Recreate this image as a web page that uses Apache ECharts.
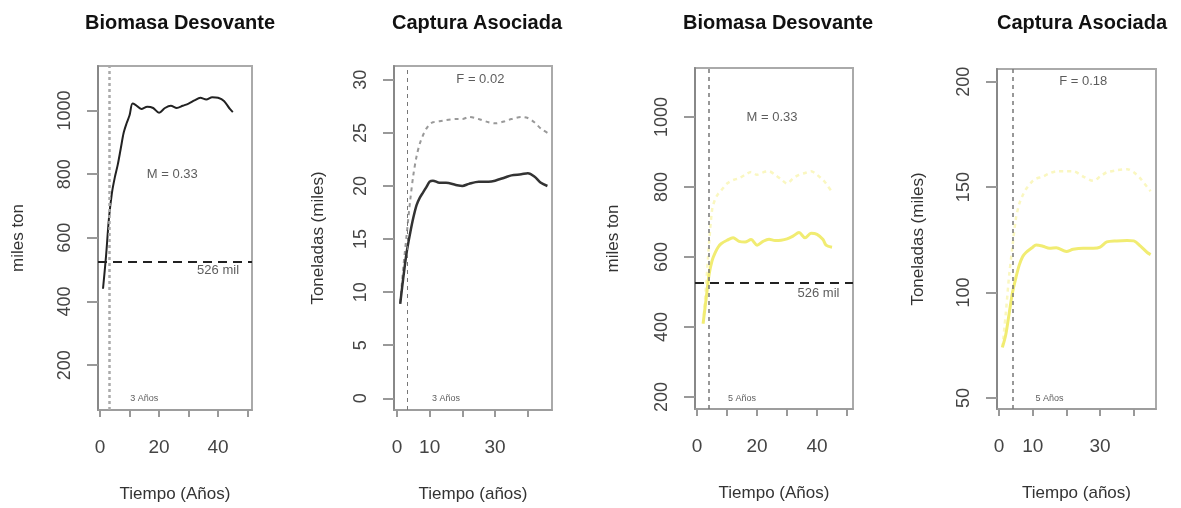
<!DOCTYPE html>
<html>
<head>
<meta charset="utf-8">
<script src="https://cdn.jsdelivr.net/npm/echarts@6/dist/echarts.min.js"></script>
<style>
  html, body { margin: 0; padding: 0; background: #fff; }
  #chart { width: 1181px; height: 508px; }
</style>
</head>
<body>
<div id="chart"></div>
<script>
// panel 1: biomasa desovante, M = 0.33
const years1 = [1, 2, 3, 4, 5, 6, 7, 8, 9, 10, 11, 12, 14, 16, 18, 20, 22, 24, 26, 28, 30, 32, 34, 36, 38, 40, 42, 44, 45]
const biomasa1 = [440, 540, 660, 740, 790, 830, 880, 930, 960, 985, 1022, 1018, 1005, 1012, 1008, 993, 1008, 1015, 1008, 1015, 1022, 1032, 1040, 1035, 1042, 1040, 1030, 1005, 995]

// panel 2: captura asociada, F = 0.02
const years2 = [1, 2, 3, 4, 5, 6, 7, 8, 9, 10, 11, 13, 15, 18, 20, 22, 25, 28, 30, 33, 35, 38, 40, 42, 44, 46]
const captura2 = [8.9, 11.5, 13.8, 15.5, 17, 18.2, 18.9, 19.4, 19.9, 20.4, 20.5, 20.3, 20.3, 20.1, 20.0, 20.2, 20.4, 20.4, 20.5, 20.8, 21.0, 21.1, 21.2, 20.9, 20.3, 20.0]
const captura2Alt = [9, 12.5, 15.5, 18.5, 21, 22.8, 24, 24.8, 25.4, 25.8, 26, 26.1, 26.2, 26.3, 26.3, 26.5, 26.3, 26, 25.9, 26.1, 26.3, 26.5, 26.4, 26, 25.4, 25]

// panel 3: biomasa desovante, M = 0.33 (amarillo)
const years3 = [2, 3, 4, 5, 6, 7, 8, 10, 12, 14, 16, 18, 20, 22, 24, 26, 28, 30, 32, 34, 36, 38, 40, 42, 43, 45]
const biomasa3 = [410, 480, 550, 590, 612, 628, 638, 648, 655, 645, 643, 650, 634, 645, 651, 647, 648, 652, 660, 670, 655, 668, 665, 650, 634, 628]
const biomasa3Alt = [410, 520, 640, 735, 765, 780, 790, 810, 820, 825, 835, 843, 835, 842, 845, 835, 822, 810, 825, 835, 840, 845, 835, 820, 810, 786]

// panel 4: captura asociada, F = 0.18 (amarillo)
const years4 = [1, 2, 3, 4, 5, 6, 7, 8, 10, 11, 13, 15, 17, 20, 22, 25, 28, 30, 32, 35, 38, 40, 42, 44, 45]
const captura4 = [74, 80, 90, 100, 107, 113, 117, 119, 121.5, 122.6, 122, 121, 121.2, 119.5, 120.5, 121, 121, 121.5, 124, 124.5, 124.7, 124.5, 122, 119, 118]
const captura4Alt = [74, 90, 108, 122, 135, 142, 146, 149, 153, 154, 155, 156.5, 157.5, 157.5, 157.5, 155, 153, 155, 157, 158, 158.5, 157, 154, 150, 148]

// ticks and labels
const xTicks1 = [0, 10, 20, 30, 40, 50]
const xLabels1 = [0, 20, 40]
const xTicks2 = [0, 10, 20, 30, 40]
const xLabels2 = [0, 10, 30]
const yTicksBiomasa = [200, 400, 600, 800, 1000]
const yTicks2 = [0, 5, 10, 15, 20, 25, 30]
const yTicks4 = [50, 100, 150, 200]

// reference lines and notes
const limite = 526
const anios = [3, 3, 4, 4]
const titles = ['Biomasa Desovante', 'Captura Asociada', 'Biomasa Desovante', 'Captura Asociada']
const yNames = ['miles ton', 'Toneladas (miles)', 'miles ton', 'Toneladas (miles)']
const xNames = ['Tiempo (Años)', 'Tiempo (años)', 'Tiempo (Años)', 'Tiempo (años)']
const notes = [
  [[24.5, 800, 'M = 0.33'], [40, 497, '526 mil'], [15, 95, '3 Años']],
  [[25.5, 30, 'F = 0.02'], [15, 0, '3 Años']],
  [[25, 1000, 'M = 0.33'], [40.5, 497, '526 mil'], [15, 197, '5 Años']],
  [[25, 200, 'F = 0.18'], [15, 50, '5 Años']],
]

const font = 'Liberation Sans, Arial, Helvetica, sans-serif'

const grids = [
  { left: 98, top: 66, width: 154, height: 346 },
  { left: 394, top: 66, width: 158, height: 346 },
  { left: 695, top: 68, width: 158, height: 341 },
  { left: 997, top: 69, width: 159, height: 340 },
]
const xRange = [[-0.7, 51.5], [-0.9, 47.4], [-0.7, 52], [-0.6, 46.6]]
const yRange = [[59, 1140], [-1.1, 31.3], [166, 1140], [44.8, 206]]
const xTicks = [xTicks1, xTicks2, xTicks1, xTicks2]
const xLabels = [xLabels1, xLabels2, xLabels1, xLabels2]
const yTicks = [yTicksBiomasa, yTicks2, yTicksBiomasa, yTicks4]
const titleCenters = [175, 472, 773, 1077]
const yNameGaps = [71, 67, 73, 70]

const pair = (xs, ys) => xs.map((x, i) => [x, ys[i]])

const myChart = echarts.init(document.getElementById('chart'))

const xAxis = grids.map((g, i) => ({
  type: 'value',
  gridIndex: i,
  min: xRange[i][0],
  max: xRange[i][1],
  name: xNames[i],
  nameLocation: 'middle',
  nameGap: 76,
  nameTextStyle: { color: '#333', fontSize: 17, fontFamily: font },
  axisLine: { show: true, onZero: false, lineStyle: { color: '#999', width: 1.5 } },
  axisTick: { show: true, customValues: xTicks[i], length: 7, lineStyle: { color: '#999', width: 2 } },
  axisLabel: { customValues: xLabels[i], color: '#444', fontSize: 19, fontFamily: font, margin: 28, formatter: (v) => String(v) },
  splitLine: { show: false },
}))

const yAxis = grids.map((g, i) => ({
  type: 'value',
  gridIndex: i,
  min: yRange[i][0],
  max: yRange[i][1],
  name: yNames[i],
  nameLocation: 'middle',
  nameGap: yNameGaps[i],
  nameTextStyle: { color: '#333', fontSize: 17, fontFamily: font },
  axisLine: { show: true, onZero: false, lineStyle: { color: '#888', width: 2 } },
  axisTick: { show: true, customValues: yTicks[i], length: 11, lineStyle: { color: '#999', width: 2 } },
  axisLabel: { customValues: yTicks[i], rotate: 90, color: '#444', fontSize: 18, fontFamily: font, margin: 24, formatter: (v) => String(v) },
  splitLine: { show: false },
}))

const vLine = (i, color, width, dash) => ({
  symbol: 'none',
  silent: true,
  label: { show: false },
  lineStyle: { color: color, width: width, type: dash },
  data: [{ xAxis: anios[i] }],
})

const hLine = {
  symbol: 'none',
  silent: true,
  label: { show: false },
  lineStyle: { color: '#222', width: 2, type: [9, 6] },
  data: [{ yAxis: limite }],
}

const series = [
  {
    type: 'line', xAxisIndex: 0, yAxisIndex: 0, smooth: 0.3, showSymbol: false,
    data: pair(years1, biomasa1),
    lineStyle: { color: '#222', width: 2 },
    markLine: vLine(0, '#aaa', 2.5, [3, 3]),
  },
  {
    type: 'line', xAxisIndex: 0, yAxisIndex: 0, showSymbol: false, data: [],
    markLine: hLine,
  },
  {
    type: 'line', xAxisIndex: 1, yAxisIndex: 1, smooth: 0.3, showSymbol: false,
    data: pair(years2, captura2Alt),
    lineStyle: { color: '#999', width: 2, type: [4, 4] },
    markLine: vLine(1, '#777', 1, [4, 4]),
  },
  {
    type: 'line', xAxisIndex: 1, yAxisIndex: 1, smooth: 0.3, showSymbol: false,
    data: pair(years2, captura2),
    lineStyle: { color: '#333', width: 2.5 },
  },
  {
    type: 'line', xAxisIndex: 2, yAxisIndex: 2, smooth: 0.3, showSymbol: false,
    data: pair(years3, biomasa3Alt),
    lineStyle: { color: '#faf7c0', width: 2.5, type: [4, 4] },
    markLine: vLine(2, '#777', 1.5, [4, 4]),
  },
  {
    type: 'line', xAxisIndex: 2, yAxisIndex: 2, smooth: 0.3, showSymbol: false,
    data: pair(years3, biomasa3),
    lineStyle: { color: '#f1ec72', width: 3 },
  },
  {
    type: 'line', xAxisIndex: 2, yAxisIndex: 2, showSymbol: false, data: [],
    markLine: hLine,
  },
  {
    type: 'line', xAxisIndex: 3, yAxisIndex: 3, smooth: 0.3, showSymbol: false,
    data: pair(years4, captura4Alt),
    lineStyle: { color: '#faf7c0', width: 2.5, type: [4, 4] },
    markLine: vLine(3, '#777', 1.5, [4, 4]),
  },
  {
    type: 'line', xAxisIndex: 3, yAxisIndex: 3, smooth: 0.3, showSymbol: false,
    data: pair(years4, captura4),
    lineStyle: { color: '#f1ec72', width: 3 },
  },
]

// text notes inside each panel, placed in data coordinates; "N Años" notes are smaller
notes.forEach((list, i) => {
  series.push({
    type: 'scatter', xAxisIndex: i, yAxisIndex: i, silent: true,
    symbolSize: 1,
    itemStyle: { color: 'rgba(0,0,0,0)' },
    data: list.map((n) => {
      const d = { value: [n[0], n[1]], name: n[2] }
      if (n[2].indexOf('Años') >= 0) d.label = { fontSize: 9 }
      return d
    }),
    label: {
      show: true, position: 'inside', color: '#333', fontFamily: font,
      formatter: (p) => p.name,
      fontSize: 13,
    },
  })
})

const option = {
  backgroundColor: '#fff',
  animation: false,
  title: titles.map((t, i) => ({
    text: t,
    left: titleCenters[i],
    top: 8,
    textAlign: 'center',
    textStyle: { color: '#111', fontSize: 20, fontWeight: 'bold', fontFamily: font },
  })),
  grid: grids.map((g) => ({ ...g, show: true, borderColor: '#aaa', borderWidth: 2, backgroundColor: 'transparent' })),
  xAxis,
  yAxis,
  series,
}

myChart.setOption(option)
</script>
</body>
</html>
